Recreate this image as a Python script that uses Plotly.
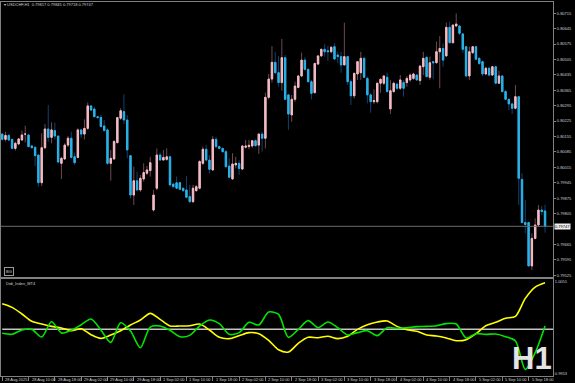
import plotly.graph_objects as go

W, H = 575, 383

# ---------------- data (USDCHF H1, 166 bars) ----------------
opens = [0.80166,0.80142,0.80160,0.80142,0.80101,0.80121,0.80139,0.80166,0.80162,0.80112,
0.80106,0.80071,0.79945,0.80104,0.80189,0.80151,0.80182,0.80157,0.80033,0.80053,
0.80116,0.80147,0.80063,0.80060,0.80185,0.80166,0.80192,0.80294,0.80280,0.80245,
0.80242,0.80203,0.80185,0.80033,0.80053,0.80127,0.80238,0.80268,0.80230,0.80068,
0.79889,0.79954,0.79912,0.79962,0.79988,0.80000,0.79821,0.79920,0.80071,0.80048,
0.80051,0.80063,0.79939,0.79945,0.79945,0.79920,0.79912,0.79882,0.79859,0.79909,
0.79920,0.80033,0.80097,0.80048,0.80003,0.80142,0.80109,0.80101,0.80086,0.80021,
0.79962,0.80026,0.80033,0.80007,0.80106,0.80109,0.80112,0.80136,0.80116,0.80166,
0.80147,0.80333,0.80416,0.80492,0.80445,0.80400,0.80513,0.80344,0.80253,0.80324,
0.80378,0.80430,0.80502,0.80460,0.80404,0.80354,0.80484,0.80521,0.80551,0.80545,
0.80540,0.80563,0.80525,0.80518,0.80480,0.80518,0.80404,0.80340,0.80439,0.80445,
0.80510,0.80419,0.80344,0.80313,0.80313,0.80397,0.80397,0.80424,0.80280,0.80359,
0.80393,0.80374,0.80400,0.80400,0.80412,0.80419,0.80434,0.80409,0.80472,0.80515,
0.80424,0.80495,0.80490,0.80540,0.80555,0.80521,0.80651,0.80581,0.80657,0.80657,
0.80621,0.80563,0.80430,0.80536,0.80563,0.80510,0.80495,0.80439,0.80465,0.80434,
0.80472,0.80397,0.80430,0.80359,0.80324,0.80303,0.80283,0.80336,0.79960,0.79764,
0.79764,0.79567,0.79692,0.79753,0.79821,0.79817]
highs = [0.80169,0.80177,0.80166,0.80145,0.80132,0.80148,0.80182,0.80204,0.80166,0.80115,
0.80109,0.80074,0.80169,0.80212,0.80298,0.80219,0.80218,0.80160,0.80063,0.80124,
0.80157,0.80177,0.80082,0.80192,0.80189,0.80233,0.80309,0.80298,0.80290,0.80248,
0.80253,0.80230,0.80192,0.80094,0.80139,0.80244,0.80283,0.80347,0.80253,0.80071,
0.80018,0.79995,0.79980,0.80033,0.80021,0.80063,0.79912,0.80101,0.80082,0.80094,
0.80101,0.80066,0.79942,0.79973,0.79950,0.79923,0.79976,0.79935,0.79935,0.79935,
0.80048,0.80109,0.80116,0.80071,0.80157,0.80154,0.80113,0.80104,0.80094,0.80056,
0.80079,0.80063,0.80048,0.80116,0.80139,0.80139,0.80139,0.80142,0.80172,0.80177,
0.80354,0.80439,0.80566,0.80540,0.80521,0.80598,0.80525,0.80348,0.80344,0.80404,
0.80434,0.80536,0.80515,0.80465,0.80412,0.80490,0.80525,0.80555,0.80575,0.80566,
0.80566,0.80578,0.80540,0.80540,0.80672,0.80518,0.80415,0.80442,0.80495,0.80540,
0.80518,0.80427,0.80351,0.80369,0.80400,0.80419,0.80434,0.80445,0.80412,0.80404,
0.80400,0.80434,0.80412,0.80430,0.80442,0.80445,0.80439,0.80480,0.80540,0.80518,
0.80518,0.80495,0.80586,0.80611,0.80578,0.80672,0.80677,0.80666,0.80714,0.80661,
0.80624,0.80566,0.80563,0.80566,0.80566,0.80515,0.80499,0.80472,0.80472,0.80475,
0.80475,0.80454,0.80434,0.80366,0.80327,0.80309,0.80389,0.80339,0.79988,0.79867,
0.79768,0.79715,0.79783,0.79844,0.79840,0.79845]
lows = [0.80136,0.80132,0.80135,0.80097,0.80091,0.80116,0.80136,0.80127,0.80106,0.80100,
0.80021,0.79927,0.79930,0.80097,0.80132,0.80124,0.80142,0.80033,0.79962,0.80048,
0.80106,0.80056,0.80026,0.80056,0.80147,0.80142,0.80185,0.80272,0.80242,0.80236,
0.80197,0.80177,0.80026,0.79954,0.80048,0.80124,0.80230,0.80212,0.80056,0.79874,
0.79844,0.79909,0.79904,0.79950,0.79980,0.79973,0.79814,0.79912,0.80045,0.80045,
0.80044,0.79927,0.79924,0.79915,0.79912,0.79904,0.79874,0.79852,0.79852,0.79904,
0.79915,0.80026,0.80041,0.79988,0.80000,0.80101,0.80097,0.80082,0.80010,0.79965,
0.79959,0.80010,0.79980,0.80003,0.80101,0.80097,0.80104,0.80109,0.80076,0.80086,
0.80101,0.80324,0.80400,0.80439,0.80381,0.80363,0.80321,0.80185,0.80222,0.80313,
0.80374,0.80424,0.80454,0.80400,0.80324,0.80351,0.80480,0.80518,0.80518,0.80499,
0.80533,0.80502,0.80487,0.80445,0.80480,0.80389,0.80298,0.80328,0.80412,0.80412,
0.80419,0.80306,0.80263,0.80303,0.80306,0.80354,0.80389,0.80354,0.80257,0.80354,
0.80366,0.80366,0.80336,0.80381,0.80404,0.80412,0.80407,0.80389,0.80434,0.80424,
0.80412,0.80415,0.80487,0.80374,0.80472,0.80518,0.80578,0.80578,0.80654,0.80616,
0.80536,0.80424,0.80412,0.80530,0.80502,0.80480,0.80430,0.80434,0.80427,0.80430,
0.80393,0.80393,0.80354,0.80321,0.80275,0.80257,0.80278,0.79844,0.79761,0.79715,
0.79564,0.79549,0.79688,0.79745,0.79798,0.79718]
closes = [0.80142,0.80160,0.80139,0.80101,0.80124,0.80144,0.80162,0.80166,0.80109,0.80104,
0.80068,0.79945,0.80104,0.80189,0.80151,0.80185,0.80157,0.80039,0.80056,0.80116,
0.80147,0.80060,0.80036,0.80185,0.80166,0.80192,0.80294,0.80275,0.80245,0.80241,
0.80200,0.80182,0.80033,0.80056,0.80132,0.80241,0.80272,0.80230,0.80094,0.79889,
0.79954,0.79912,0.79965,0.79991,0.80003,0.80036,0.79889,0.80071,0.80048,0.80060,
0.80063,0.79935,0.79927,0.79920,0.79915,0.79909,0.79879,0.79859,0.79920,0.79927,
0.80041,0.80097,0.80048,0.80006,0.80142,0.80109,0.80101,0.80086,0.80018,0.79970,
0.80030,0.80033,0.80010,0.80112,0.80112,0.80115,0.80136,0.80113,0.80166,0.80147,
0.80333,0.80416,0.80492,0.80445,0.80400,0.80513,0.80324,0.80257,0.80324,0.80384,
0.80430,0.80502,0.80460,0.80404,0.80351,0.80487,0.80521,0.80551,0.80540,0.80540,
0.80560,0.80507,0.80518,0.80480,0.80518,0.80404,0.80340,0.80442,0.80495,0.80510,
0.80424,0.80344,0.80313,0.80318,0.80397,0.80415,0.80430,0.80359,0.80363,0.80397,
0.80374,0.80412,0.80374,0.80419,0.80434,0.80439,0.80412,0.80475,0.80510,0.80427,
0.80490,0.80490,0.80540,0.80555,0.80502,0.80651,0.80581,0.80661,0.80666,0.80624,
0.80551,0.80430,0.80540,0.80563,0.80506,0.80487,0.80439,0.80465,0.80434,0.80472,
0.80397,0.80430,0.80359,0.80324,0.80303,0.80283,0.80336,0.79965,0.79764,0.79755,
0.79567,0.79692,0.79753,0.79821,0.79814,0.79747]

time_labels = ["28 Aug 2025", "28 Aug 10:00", "28 Aug 18:00", "29 Aug 02:00", "29 Aug 10:00",
               "29 Aug 18:00", "1 Sep 02:00", "1 Sep 10:00", "1 Sep 18:00", "2 Sep 02:00",
               "2 Sep 10:00", "2 Sep 18:00", "3 Sep 02:00", "3 Sep 10:00", "3 Sep 18:00",
               "4 Sep 02:00", "4 Sep 10:00", "4 Sep 18:00", "5 Sep 02:00", "5 Sep 10:00",
               "5 Sep 18:00"]
bars_per_label = 8

price_ticks = [0.80715, 0.80645, 0.80575, 0.80505, 0.80435, 0.80365, 0.80295, 0.80225,
               0.80155, 0.80085, 0.80015, 0.79945, 0.79875, 0.79805, 0.79665, 0.79595, 0.79525]
last_price = 0.79747

# Didi index (sampled every 3 bars)
didi_bars = list(range(0, 163, 3)) + [165]
didi_yellow = [1.00273,1.00234,1.00163,1.00085,1.00056,1.00031,1.00014,0.99985,1.00006,0.99942,
               0.99903,0.99939,0.99985,1.00046,1.00099,1.00170,1.00106,1.00035,1.00035,1.00038,
               1.00056,0.99992,0.99914,0.99900,0.99932,0.99964,0.99953,0.99882,0.99782,
               0.99757,0.99850,0.99914,0.99910,0.99925,0.99900,0.99925,0.99999,1.00049,1.00078,
               1.00088,1.00031,0.99996,0.99978,0.99939,0.99928,0.99907,0.99878,0.99889,0.99953,
               1.00038,1.00074,1.00117,1.00138,1.00330,1.00451,1.00498]
didi_green = [0.99957,0.99946,0.99992,0.99999,0.99917,1.00081,0.99960,0.99989,1.00049,1.00110,
              0.99992,0.99860,1.00070,0.99981,0.99803,1.00024,1.00035,0.99989,0.99921,0.99935,
              1.00035,1.00099,1.00060,0.99946,0.99964,1.00074,1.00046,1.00184,1.00159,
              0.99914,0.99999,1.00092,1.00017,1.00078,1.00017,0.99939,0.99964,0.99985,0.99932,
              1.00017,1.00010,1.00017,1.00028,1.00031,1.00038,1.00060,1.00056,0.99907,0.99953,
              0.99946,0.99949,0.99921,0.99875,0.99572,0.99750,1.00035]
didi_level = 1.0
sub_ticks = [1.0051, 0.9953]

# ---------------- styling ----------------
BULL_BODY, BULL_WICK = "#f5bcc6", "#6e4a50"
BEAR_BODY, BEAR_WICK = "#29b4e8", "#12406e"
AXIS = "#808080"
TXT = "#d2d2d2"
FONT = "Liberation Sans"

bars = list(range(len(opens)))
body_hi = [max(o, c) for o, c in zip(opens, closes)]
body_lo = [min(o, c) for o, c in zip(opens, closes)]

def px_x(p):
    return p / W

def px_y(p):
    return 1 - p / H

x_dom = [px_x(1), px_x(553)]
x_rng = [-0.365, 167.42]

fig = go.Figure()

# wicks
fig.add_trace(go.Candlestick(
    x=bars, open=opens, high=highs, low=lows, close=closes,
    increasing=dict(line=dict(color=BULL_WICK, width=1), fillcolor=BULL_WICK),
    decreasing=dict(line=dict(color=BEAR_WICK, width=1), fillcolor=BEAR_WICK),
    whiskerwidth=0, showlegend=False, hoverinfo="skip", xaxis="x", yaxis="y"))
# bodies
fig.add_trace(go.Candlestick(
    x=bars, open=opens, high=body_hi, low=body_lo, close=closes,
    increasing=dict(line=dict(color=BULL_BODY, width=1), fillcolor=BULL_BODY),
    decreasing=dict(line=dict(color=BEAR_BODY, width=1), fillcolor=BEAR_BODY),
    whiskerwidth=0, showlegend=False, hoverinfo="skip", xaxis="x", yaxis="y"))

# Didi index subwindow
fig.add_trace(go.Scatter(x=[0, len(opens) + 5], y=[didi_level, didi_level], mode="lines",
                         line=dict(color="#c4c4c4", width=1.6), showlegend=False,
                         hoverinfo="skip", xaxis="x2", yaxis="y2"))
fig.add_trace(go.Scatter(x=didi_bars, y=didi_yellow, mode="lines",
                         line=dict(color="#ffff00", width=1.6, shape="spline", smoothing=0.8),
                         showlegend=False, hoverinfo="skip", xaxis="x2", yaxis="y2"))
fig.add_trace(go.Scatter(x=didi_bars, y=didi_green, mode="lines",
                         line=dict(color="#00e600", width=1.6, shape="spline", smoothing=0.8),
                         showlegend=False, hoverinfo="skip", xaxis="x2", yaxis="y2"))

tick_bars = [i * bars_per_label for i in range(len(time_labels))]

fig.update_layout(
    template="none",
    width=W, height=H, margin=dict(l=0, r=0, t=0, b=0, pad=0, autoexpand=False),
    paper_bgcolor="black", plot_bgcolor="black",
    font=dict(family=FONT, size=4, color=TXT),
    boxgap=0.4, showlegend=False,
    xaxis=dict(domain=x_dom, range=x_rng, anchor="y", showgrid=False, zeroline=False,
               showticklabels=False, ticks="", showline=True, mirror=True, automargin=False,
               linecolor=AXIS, linewidth=1, rangeslider=dict(visible=False), fixedrange=True),
    yaxis=dict(domain=[px_y(276.5), px_y(2)], range=[0.79519, 0.80766], side="right",
               showgrid=False, zeroline=False, tickvals=price_ticks, automargin=False,
               ticktext=[f"{v:.5f}" for v in price_ticks], ticks="outside", ticklen=2,
               tickcolor=AXIS, tickfont=dict(size=4, color=TXT), showline=True, mirror=True,
               linecolor=AXIS, linewidth=1, fixedrange=True),
    xaxis2=dict(domain=x_dom, range=x_rng, anchor="y2", showgrid=False, zeroline=False,
                tickvals=tick_bars, showticklabels=False, ticks="outside", ticklen=4,
                tickcolor=AXIS, showline=True, mirror=True, linecolor=AXIS, linewidth=1,
                automargin=False, fixedrange=True),
    yaxis2=dict(domain=[px_y(376), px_y(279)], range=[0.99501, 1.00537], side="right",
                showgrid=False, zeroline=False, tickvals=sub_ticks, automargin=False,
                ticktext=[f"{v:.4f}" for v in sub_ticks], ticks="", ticklen=2,
                tickfont=dict(size=4, color=TXT), showline=True, mirror=True,
                linecolor=AXIS, linewidth=1, fixedrange=True),
)

# current price line
fig.add_shape(type="line", xref="paper", yref="y", x0=x_dom[0], x1=x_dom[1],
              y0=last_price, y1=last_price, line=dict(color="#6c6c6c", width=1))

ann = []
ann.append(dict(x=px_x(554), y=last_price, xref="paper", yref="y", xanchor="left",
                yanchor="middle", text=f"{last_price:.5f}", showarrow=False,
                font=dict(size=4, color="black"), bgcolor="#eeeeee", borderpad=0))
for tb, lab in zip(tick_bars, time_labels):
    ann.append(dict(x=tb, y=px_y(379.5), xref="x2", yref="paper", xanchor="left",
                    yanchor="middle", xshift=1, text=lab, showarrow=False,
                    font=dict(size=4, color=TXT)))
ann.append(dict(x=px_x(2), y=px_y(4.5), xref="paper", yref="paper", xanchor="left",
                yanchor="middle",
                text=f"▾ USDCHF,H1  {opens[-1]:.5f} {highs[-1]:.5f} {lows[-1]:.5f} {closes[-1]:.5f}",
                showarrow=False, font=dict(size=4, color=TXT)))
ann.append(dict(x=px_x(4), y=px_y(271.5), xref="paper", yref="paper", xanchor="left",
                yanchor="middle", text="BG", showarrow=False, font=dict(size=4, color=TXT),
                bordercolor="#9a9a9a", borderwidth=1, borderpad=1, bgcolor="black"))
ann.append(dict(x=px_x(4), y=px_y(283), xref="paper", yref="paper", xanchor="left",
                yanchor="middle", text="Didi_Index_MT4", showarrow=False,
                font=dict(size=4, color=TXT)))
ann.append(dict(x=px_x(531.5), y=px_y(358.5), xref="paper", yref="paper", xanchor="center",
                yanchor="middle", text="<b>H1</b>", showarrow=False,
                font=dict(size=31, color="#e4e4e4", family=FONT)))
fig.update_layout(annotations=ann)

fig.write_html(
    "out.html",
    config={"displayModeBar": False, "staticPlot": True},
    post_script="document.body.style.margin='0';document.body.style.padding='0';"
                "document.body.style.background='black';"
                "document.documentElement.style.background='black';",
)
